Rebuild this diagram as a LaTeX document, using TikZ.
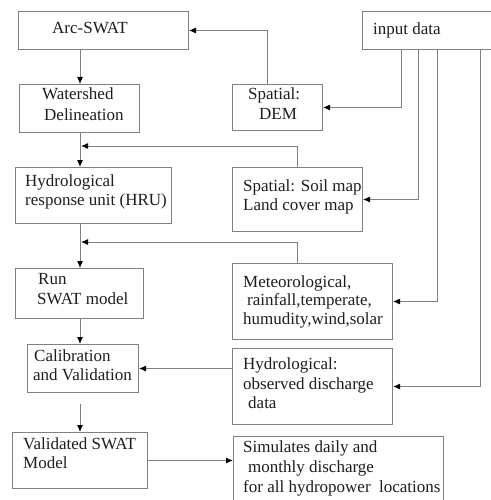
\documentclass[tikz,border=0pt]{standalone}
\usepackage{fontspec}
\setmainfont{Liberation Serif}
\usetikzlibrary{arrows.meta}
\definecolor{linegray}{HTML}{808080}
\definecolor{txtcol}{HTML}{1E1E1E}
\begin{document}
\begin{tikzpicture}[x=1pt,y=-1pt,
  box/.style={draw=linegray, line width=1pt, inner sep=0pt, anchor=north west},
  txt/.style={anchor=base west, inner sep=0pt, text=txtcol, font=\fontsize{17}{20}\selectfont},
  arr/.style={draw=linegray, line width=1pt, -{Latex[length=7pt,width=6pt,black]}},
  ln/.style={draw=linegray, line width=1pt}]
\useasboundingbox (0,0) rectangle (490,500);
\fill[white] (0,0) rectangle (490,500);
% boxes
\node[box, minimum width=170pt, minimum height=38pt] (arc) at (18,11) {};
\node[box, minimum width=120pt, minimum height=48pt] (ws) at (19,84) {};
\node[box, minimum width=156pt, minimum height=56pt] (hru) at (15,167) {};
\node[box, minimum width=128pt, minimum height=50pt] (run) at (15,268) {};
\node[box, minimum width=111pt, minimum height=48pt] (cal) at (27,344) {};
\node[box, minimum width=135pt, minimum height=56pt] (val) at (12,432) {};
\node[box, minimum width=148pt, minimum height=38pt] (in) at (362,11) {};
\node[box, minimum width=90pt, minimum height=46pt] (dem) at (232,84) {};
\node[box, minimum width=130pt, minimum height=64pt] (soil) at (232,167) {};
\node[box, minimum width=160pt, minimum height=76pt] (met) at (232,263) {};
\node[box, minimum width=160pt, minimum height=76pt] (hyd) at (232,348) {};
\node[box, minimum width=210pt, minimum height=79pt] (sim) at (233,436) {};
% texts
\node[txt] (arc-t) at (52,34) {Arc-SWAT};
\node[txt] (ws-t1) at (42,100) {Watershed};
\node[txt] (ws-t2) at (44,121) {Delineation};
\node[txt] (hru-t1) at (25,186) {Hydrological};
\node[txt] (hru-t2) at (25,205) {response unit (HRU)};
\node[txt] (run-t1) at (38,284) {Run};
\node[txt] (run-t2) at (37,304) {SWAT model};
\node[txt] (cal-t1) at (34,361) {Calibration};
\node[txt] (cal-t2) at (33,380) {and Validation};
\node[txt] (val-t1) at (23,449) {Validated SWAT};
\node[txt] (val-t2) at (23,468) {Model};
\node[txt] (in-t) at (373,35) {input data};
\node[txt] (dem-t1) at (248,100) {Spatial:};
\node[txt] (dem-t2) at (259,120) {DEM};
\node[txt] (soil-t1) at (243,191) {Spatial: Soil map};
\node[txt] (soil-t2) at (243,210) {Land cover map};
\node[txt] (met-t1) at (243,287) {Meteorological,};
\node[txt] (met-t2) at (247,305) {rainfall,temperate,};
\node[txt] (met-t3) at (243,324) {humudity,wind,solar};
\node[txt] (hyd-t1) at (243,369) {Hydrological:};
\node[txt] (hyd-t2) at (243,389) {observed discharge};
\node[txt] (hyd-t3) at (248,408) {data};
\node[txt] (sim-t1) at (243,452) {Simulates daily and};
\node[txt] (sim-t2) at (248,472) {monthly discharge};
\node[txt] (sim-t3) at (243,492) {for all hydropower\ \ locations};
% coordinates
\coordinate (axis) at (80,0);
\coordinate (demx) at (267,0);
\coordinate (midx) at (297,0);
\coordinate (j1) at (81,146);
\coordinate (j2) at (81,242);
\coordinate (vs) at (80,404);
\coordinate (i1) at (401,0);
\coordinate (i2) at (418,0);
\coordinate (i3) at (437,0);
\coordinate (i4) at (480,0);
% connectors
\draw[arr] (arc.south -| axis) -- (ws.north -| axis);
\draw[arr] (ws.south -| axis) -- (hru.north -| axis);
\draw[arr] (hru.south -| axis) -- (run.north -| axis);
\draw[arr] (run.south -| axis) -- (cal.north -| axis);
\draw[arr] (vs) -- (val.north -| vs);
\draw[arr] (val.east) -- (sim.west |- val.east);
\draw[arr] (dem.north -| demx) |- (arc.east);
\draw[arr] (soil.north -| midx) |- (j1);
\draw[arr] (met.north -| midx) |- (j2);
\draw[arr] (hyd.west |- cal.east) -- (cal.east);
\draw[arr] (in.south -| i1) |- (dem.east);
\draw[arr] (in.south -| i2) |- (soil.east);
\draw[arr] (in.south -| i3) |- (met.east);
\draw[arr] (in.south -| i4) |- (hyd.east);
\end{tikzpicture}
\end{document}
